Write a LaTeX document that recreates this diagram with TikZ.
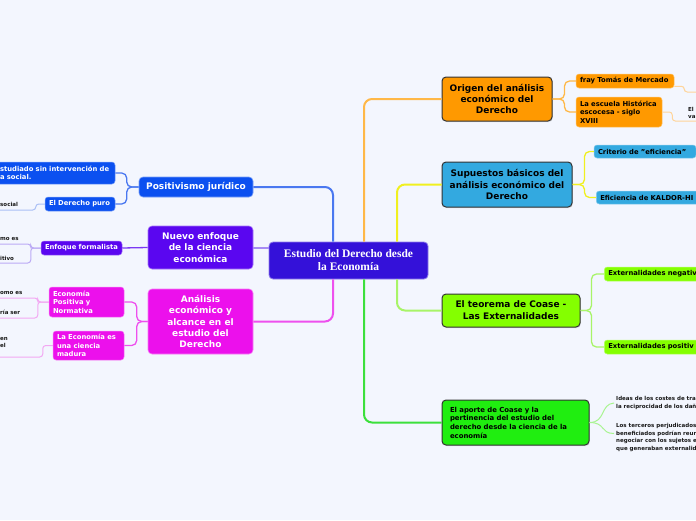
\documentclass[tikz,border=0pt]{standalone}
\usepackage{fontspec}
\setmainfont{Liberation Serif}
\setsansfont{DejaVu Sans}
\usetikzlibrary{shadows}
\definecolor{bg}{HTML}{F3F6FE}
\definecolor{ccentral}{HTML}{3411D9}
\definecolor{cblue}{HTML}{0B50F0}
\definecolor{cpurple}{HTML}{5A06F0}
\definecolor{cmag}{HTML}{EC10EC}
\definecolor{corange}{HTML}{FF9900}
\definecolor{csky}{HTML}{33A9E0}
\definecolor{clime}{HTML}{84FF00}
\definecolor{cgreen}{HTML}{20EE10}
\definecolor{lblue}{HTML}{4A78F0}
\definecolor{lpurple}{HTML}{A78CF4}
\definecolor{lmag}{HTML}{EE50EE}
\definecolor{lorange}{HTML}{FFB848}
\definecolor{lyellow}{HTML}{F0F020}
\definecolor{llime}{HTML}{A8F468}
\definecolor{lgreen}{HTML}{3CE03C}
\definecolor{sblue}{HTML}{AABFF5}
\definecolor{spurple}{HTML}{BBAAF5}
\definecolor{smag}{HTML}{F2A8F2}
\definecolor{sorange}{HTML}{FFD49A}
\definecolor{sgreen}{HTML}{A8F490}
\tikzset{
  mainbox/.style={rounded corners=4pt, inner sep=0pt, align=center,
    font=\fontsize{9}{11.2}\selectfont\sffamily\bfseries},
  leftmain/.style={mainbox, text=white, line width=0.6pt},
  rightmain/.style={mainbox, text=black, draw=black!80, line width=1pt,
    drop shadow={shadow xshift=0.8pt, shadow yshift=-1pt, opacity=0.25}},
  childbox/.style={rounded corners=3pt, inner xsep=4pt, inner ysep=0pt, align=left,
    line width=0.5pt, font=\fontsize{6.8}{8.5}\selectfont\sffamily\bfseries},
  tinytext/.style={inner sep=0pt, align=left, text=black!90,
    font=\fontsize{5.5}{7.6}\selectfont\sffamily\bfseries},
  mainline/.style={line width=2pt, rounded corners=8pt},
  forkline/.style={line width=1.3pt, rounded corners=5pt},
  subline/.style={line width=1pt, rounded corners=3pt},
}
\begin{document}
\begin{tikzpicture}[x=1pt,y=-1pt]
\useasboundingbox (0,0) rectangle (696,520);
\fill[bg] (0,0) rectangle (696,520);
\begin{scope}
\clip (0,0) rectangle (696,520);

% ---------- central ----------
\node[draw=ccentral!55!white, line width=0.8pt, fill=ccentral, rounded corners=4pt,
  minimum width=159pt, minimum height=37pt, inner sep=0pt, align=center, text=white,
  font=\fontsize{11.5}{13}\selectfont\bfseries] (central) at (348.5,260.5)
  {Estudio del Derecho desde\\la Economía};

% ---------- left main ----------
\node[leftmain, fill=cblue, draw=cblue!55!white, minimum width=114pt, minimum height=20pt]
  (pos) at (196,187) {Positivismo jurídico};
\node[leftmain, fill=cpurple, draw=cpurple!55!white, minimum width=105pt, minimum height=43pt]
  (nuevo) at (200.5,247.5) {Nuevo enfoque\\de la ciencia\\económica};
\node[leftmain, fill=cmag, draw=cmag!55!white, minimum width=105pt, minimum height=65pt]
  (anal) at (200.5,321.5) {Análisis\\económico y\\alcance en el\\estudio del\\Derecho};

% ---------- right main ----------
\node[rightmain, fill=corange, minimum width=110pt, minimum height=44pt]
  (origen) at (497,99) {Origen del análisis\\económico del\\Derecho};
\node[rightmain, fill=csky, minimum width=130pt, minimum height=45pt]
  (sup) at (507,184.5) {Supuestos básicos del\\análisis económico del\\Derecho};
\node[rightmain, fill=clime, minimum width=138pt, minimum height=33pt,
  font=\fontsize{9}{12}\selectfont\sffamily\bfseries]
  (coase) at (511,310.5) {El teorema de Coase -\\Las Externalidades};
\node[rightmain, fill=cgreen, minimum width=147pt, minimum height=45pt, align=left,
  text width=131pt, font=\fontsize{6.9}{8.7}\selectfont\sffamily\bfseries]
  (aporte) at (515.5,422.5) {El aporte de Coase y la\\pertinencia del estudio del\\derecho desde la ciencia de la\\economía};

% ---------- right children ----------
\node[childbox, fill=corange, draw=corange!60!white, text width=90pt, minimum height=14pt]
  (fray) at (625,81) {fray Tomás de Mercado};
\node[childbox, fill=corange, draw=corange!60!white, text width=78pt, minimum height=30pt]
  (escuela) at (619,112) {La escuela Histórica\\escocesa - siglo\\XVIII};
\node[childbox, fill=csky, draw=csky!60!white, text width=94pt, minimum height=13pt]
  (crit) at (645,151.5) {Criterio de "eficiencia"};
\node[childbox, fill=csky, draw=csky!60!white, anchor=west, text width=110pt, minimum height=13pt]
  (kal) at (596,197.5) {Eficiencia de KALDOR-HI};
\node[childbox, fill=clime, draw=clime!60!white, anchor=west, text width=110pt, minimum height=14pt]
  (neg) at (604,274) {Externalidades negativ};
\node[childbox, fill=clime, draw=clime!60!white, anchor=west, text width=110pt, minimum height=14pt]
  (posit) at (604,347) {Externalidades positiv};

\node[tinytext, anchor=west] (ideas) at (616,403) {Ideas de los costes de tra\\la reciprocidad de los dañ};
\node[tinytext, anchor=west] (terc) at (616,437.5) {Los terceros perjudicados\\beneficiados podrían reun\\negociar con los sujetos e\\que generaban externalid};
\node[tinytext, anchor=west] (elva) at (688,113) {El\\va};

% ---------- left children ----------
\node[childbox, fill=cblue, draw=cblue!55!white, text=white, text width=111pt, minimum height=22pt]
  (est) at (55.5,173) {studiado sin intervención de\\a social.};
\node[childbox, fill=cblue, draw=cblue!55!white, text=white, text width=62pt, minimum height=14pt]
  (puro) at (80,204) {El Derecho puro};
\node[childbox, fill=cpurple, draw=cpurple!55!white, text=white, text width=73pt, minimum height=14pt]
  (form) at (81.5,248) {Enfoque formalista};
\node[childbox, fill=cmag, draw=cmag!55!white, text=white, text width=67pt, minimum height=30pt]
  (econ) at (86.5,302) {Economía\\Positiva y\\Normativa};
\node[childbox, fill=cmag, draw=cmag!55!white, text=white, text width=63pt, minimum height=29pt]
  (madura) at (88.5,345.5) {La Economía es\\una ciencia\\madura};

\node[tinytext, anchor=west] (tsocial) at (0,204) {social};
\node[tinytext, anchor=west] (tmoes) at (0,239) {mo es};
\node[tinytext, anchor=west] (titivo) at (0,258) {itivo};
\node[tinytext, anchor=west] (tomoes) at (0,293) {omo es};
\node[tinytext, anchor=west] (triaser) at (0,312) {ría ser};
\node[tinytext, anchor=west] (tenel) at (0,342.5) {en\\el};

% ---------- free ends ----------
\coordinate (e1) at (0,210);
\coordinate (e2) at (0,244);
\coordinate (e3) at (0,263);
\coordinate (e4) at (0,298);
\coordinate (e5) at (0,318);
\coordinate (e6) at (0,357);
\coordinate (r1) at (700,92);
\coordinate (r2) at (700,121);
\coordinate (r3) at (700,151.5);

% ---------- main connectors ----------
\draw[mainline, lblue] ([xshift=-15.5pt]central.north) |- (pos.east);
\draw[mainline, lpurple] (central.west |- nuevo.east) -- (nuevo.east);
\draw[mainline, lmag] ([xshift=-15.5pt]central.south) |- (anal.east);
\draw[mainline, lorange] ([xshift=15.5pt]central.north) |- (origen.west);
\draw[mainline, lyellow] ([xshift=48.5pt]central.north) |- (sup.west);
\draw[mainline, lgreen] ([xshift=15.5pt]central.south) |- (aporte.west);
\draw[mainline, llime] ([xshift=48.5pt]central.south) |- (coase.west);

% ---------- forks ----------
\draw[forkline, lorange] (origen.east) -- ++(12,0) |- (fray.west);
\draw[forkline, lorange] (origen.east) -- ++(12,0) |- (escuela.west);
\draw[forkline, lyellow] (sup.east) -- ++(12,0) |- (crit.west);
\draw[forkline, lyellow] (sup.east) -- ++(12,0) |- (kal.west);
\draw[forkline, llime] (coase.east) -- ++(11,0) |- (neg.west);
\draw[forkline, llime] (coase.east) -- ++(11,0) |- (posit.west);
\draw[forkline, lblue] (pos.west) -- ++(-12,0) |- (est.east);
\draw[forkline, lblue] (pos.west) -- ++(-12,0) |- (puro.east);
\draw[forkline, cpurple!80!white] (nuevo.west) -- (form.east);
\draw[forkline, lmag] (anal.west) -- ++(-11,0) |- (econ.east);
\draw[forkline, lmag] (anal.west) -- ++(-11,0) |- (madura.east);
\draw[line width=1pt, sgreen] (aporte.east) .. controls (606,422.5) and (600,404) .. ([xshift=-2pt]ideas.west);
\draw[line width=1pt, sgreen] (aporte.east) .. controls (606,422.5) and (600,433.5) .. ([xshift=-2pt,yshift=4pt]terc.west);

% ---------- sub connectors ----------
\draw[subline, sorange] ([yshift=2pt]fray.south east) -- ++(10,0) |- (r1);
\draw[subline, sorange] (escuela.east) -- ++(10,0) |- (r2);
\draw[subline, lyellow] (crit.east) -- (r3);
\draw[subline, sblue] (puro.west) -- ++(-9,0) |- (e1);
\draw[subline, spurple] (form.west) -- ++(-10,0) |- (e2);
\draw[subline, spurple] (form.west) -- ++(-10,0) |- (e3);
\draw[subline, smag] (econ.west) -- ++(-11,0) |- (e4);
\draw[subline, smag] (econ.west) -- ++(-11,0) |- (e5);
\draw[subline, smag] (madura.west) -- ++(-10,0) |- (e6);
\end{scope}
\end{tikzpicture}
\end{document}
